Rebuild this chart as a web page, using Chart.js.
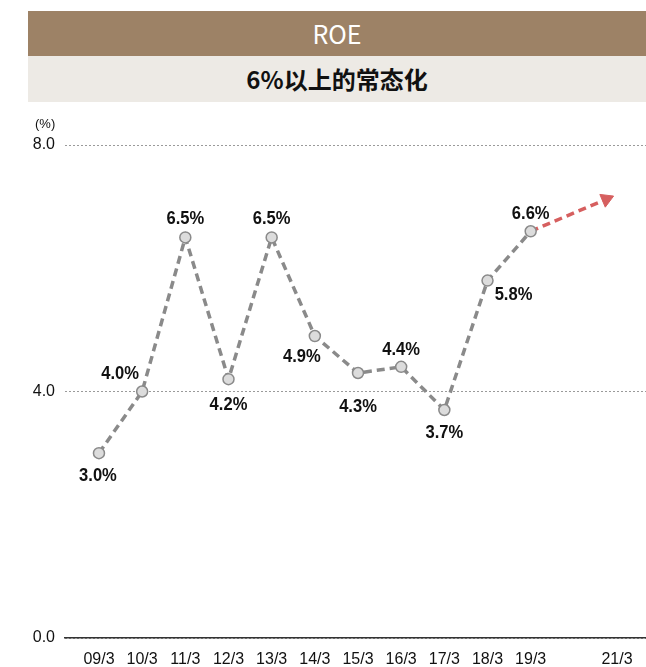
<!DOCTYPE html>
<html>
<head>
<meta charset="utf-8">
<script src="https://cdn.jsdelivr.net/npm/chart.js@4/dist/chart.umd.min.js"></script>
<style>
  body { margin: 0; background: #fff; width: 646px; height: 667px; overflow: hidden; }
  .title {
    position: absolute; left: 28px; top: 11px; width: 618px; height: 45px;
    background: #9d8266; color: #fff; text-align: center; line-height: 45px;
    font-family: "Noto Sans CJK SC", "Noto Sans", sans-serif; font-size: 25px;
  }
  .subtitle {
    position: absolute; left: 28px; top: 56px; width: 618px; height: 46px;
    background: #edeae5; color: #111; text-align: center; line-height: 46px;
    font-family: "Noto Sans CJK SC", sans-serif; font-size: 24px; font-weight: bold;
  }
  .wrap { position: absolute; left: 0; top: 102px; width: 646px; height: 565px; }
</style>
</head>
<body>
<div class="title">ROE</div>
<div class="subtitle">6%以上的常态化</div>
<div class="wrap"><canvas id="roe"></canvas></div>
<script>
const xLabels = ["09/3", "10/3", "11/3", "12/3", "13/3", "14/3", "15/3", "16/3", "17/3", "18/3", "19/3", "", "21/3"];
const roeValues = [3.0, 4.0, 6.5, 4.2, 6.5, 4.9, 4.3, 4.4, 3.7, 5.8, 6.6];
const yTicks = [0, 4, 8];
// target arrow: from the last actual value toward 21/3
const targetX = [10, 11.75];
const targetY = [6.6, 7.12];
// where each value label sits relative to its point (px)
const labelOffsets = [[-1, 23], [-22, -17], [0, -18], [0, 26], [0, -18], [-13, 21],
  [0, 34], [0, -17], [0, 23], [26, 14], [0, -17]];

const sans = '"Liberation Sans", Arial, sans-serif';

const valueLabels = {
  id: "valueLabels",
  afterDatasetsDraw(chart) {
    const ctx = chart.ctx;
    const meta = chart.getDatasetMeta(0);
    ctx.save();
    ctx.font = "bold 18px " + sans;
    ctx.fillStyle = "#111";
    ctx.textAlign = "center";
    ctx.textBaseline = "middle";
    meta.data.forEach((pt, i) => {
      const off = labelOffsets[i];
      ctx.save();
      ctx.translate(pt.x + off[0], pt.y + off[1]);
      ctx.scale(0.92, 1);
      ctx.fillText(roeValues[i].toFixed(1) + "%", 0, 0);
      ctx.restore();
    });
    // unit label above the y axis
    ctx.font = "13px " + sans;
    ctx.textAlign = "left";
    ctx.fillText("(%)", 35, 22);
    ctx.restore();
  }
};

function arrowAngle(c) {
  const sx = c.chart.scales.x, sy = c.chart.scales.y;
  if (!sx || !sy) return 67.5;
  const dx = sx.getPixelForValue(targetX[1]) - sx.getPixelForValue(targetX[0]);
  const dy = sy.getPixelForValue(targetY[1]) - sy.getPixelForValue(targetY[0]);
  return Math.atan2(dy, dx) * 180 / Math.PI + 90;
}

new Chart(document.getElementById("roe"), {
  type: "line",
  data: {
    datasets: [
      {
        data: roeValues.map((v, i) => ({ x: i, y: v })),
        borderColor: "#8a8a8a",
        borderWidth: 3.5,
        borderDash: [8, 5],
        pointRadius: 5.5,
        pointBackgroundColor: "#dcdcdc",
        pointBorderColor: "#8a8a8a",
        pointBorderWidth: 1.5,
        tension: 0,
        order: 0,
      },
      {
        data: targetX.map((x, i) => ({ x: x, y: targetY[i] })),
        borderColor: "#d65f5f",
        borderWidth: 3.5,
        borderDash: [8, 5],
        pointRadius: [0, 8],
        pointStyle: "triangle",
        pointRotation: arrowAngle,
        pointBackgroundColor: "#d65f5f",
        pointBorderColor: "#d65f5f",
        pointBorderWidth: 1,
        order: 1,
      },
    ],
  },
  options: {
    responsive: true,
    maintainAspectRatio: false,
    animation: false,
    layout: { autoPadding: false, padding: { top: 43, right: 0, left: 0, bottom: 0 } },
    plugins: { legend: { display: false }, tooltip: { enabled: false } },
    scales: {
      x: {
        type: "linear",
        min: -0.787,
        max: 12.671,
        afterBuildTicks: (s) => { s.ticks = xLabels.map((_, i) => ({ value: i })); },
        afterFit: (s) => { s.height = 29; s.paddingLeft = 0; s.paddingRight = 0; },
        ticks: {
          autoSkip: false,
          maxRotation: 0,
          padding: 4,
          color: "#111",
          font: { family: sans, size: 16 },
          callback: (v) => xLabels[v],
        },
        grid: { display: false },
        border: { display: true, color: "#333", width: 1.5 },
      },
      y: {
        min: 0,
        max: 8,
        afterBuildTicks: (s) => { s.ticks = yTicks.map((v) => ({ value: v })); },
        afterFit: (s) => { s.width = 65; s.paddingTop = 0; s.paddingBottom = 0; },
        ticks: {
          padding: 10,
          color: "#111",
          font: { family: sans, size: 16 },
          callback: (v) => v.toFixed(1),
        },
        grid: { color: "#9a9a9a", lineWidth: 1, drawTicks: false },
        border: { display: false, dash: [2, 2] },
      },
    },
  },
  plugins: [valueLabels],
});
</script>
</body>
</html>
